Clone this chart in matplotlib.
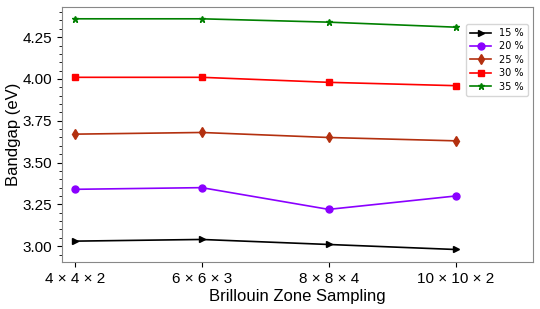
import matplotlib as mpl
mpl.use('Agg')
import matplotlib.pyplot as plt
from matplotlib.ticker import MultipleLocator, FormatStrFormatter

plt.rcParams['font.family'] = ['Liberation Sans', 'DejaVu Sans']

samplings = ['4 × 4 × 2', '6 × 6 × 3', '8 × 8 × 4', '10 × 10 × 2']
labels = ['15 %', '20 %', '25 %', '30 %', '35 %']
gap_15 = [3.03, 3.04, 3.01, 2.98]
gap_20 = [3.34, 3.35, 3.22, 3.30]
gap_25 = [3.67, 3.68, 3.65, 3.63]
gap_30 = [4.01, 4.01, 3.98, 3.96]
gap_35 = [4.36, 4.36, 4.34, 4.31]
colors = ['black', '#8a00ff', '#b3300f', '#ff0000', 'green']
markers = ['>', 'o', 'd', 's', '*']

fig = plt.figure(figsize=(5.4, 3.09), dpi=100)
ax = fig.add_axes([0.115, 0.152, 0.872, 0.825])

x = list(range(len(samplings)))
for vals, lab, c, m in zip([gap_15, gap_20, gap_25, gap_30, gap_35], labels, colors, markers):
    ax.plot(x, vals, color=c, marker=m, markersize=5, linewidth=1.2, label=lab)

ax.set_xticks(x)
ax.set_xticklabels(samplings, fontsize=11)
ax.set_xlim(-0.1, 3.61)
ax.set_ylim(2.905, 4.43)
ax.yaxis.set_major_locator(MultipleLocator(0.25))
ax.yaxis.set_minor_locator(MultipleLocator(0.05))
ax.yaxis.set_major_formatter(FormatStrFormatter('%.2f'))
ax.tick_params(axis='y', labelsize=11)
ax.tick_params(which='both', direction='out')
for s in ax.spines.values():
    s.set_color('#888888')

ax.set_xlabel('Brillouin Zone Sampling', fontsize=12, labelpad=2)
ax.set_ylabel('Bandgap (eV)', fontsize=12, labelpad=1)
ax.legend(loc='upper right', bbox_to_anchor=(0.989, 0.933), borderaxespad=0,
          handlelength=2.2, labelspacing=0.35, prop={'family': 'DejaVu Sans', 'size': 7})

fig.savefig('out.png', dpi=100)
